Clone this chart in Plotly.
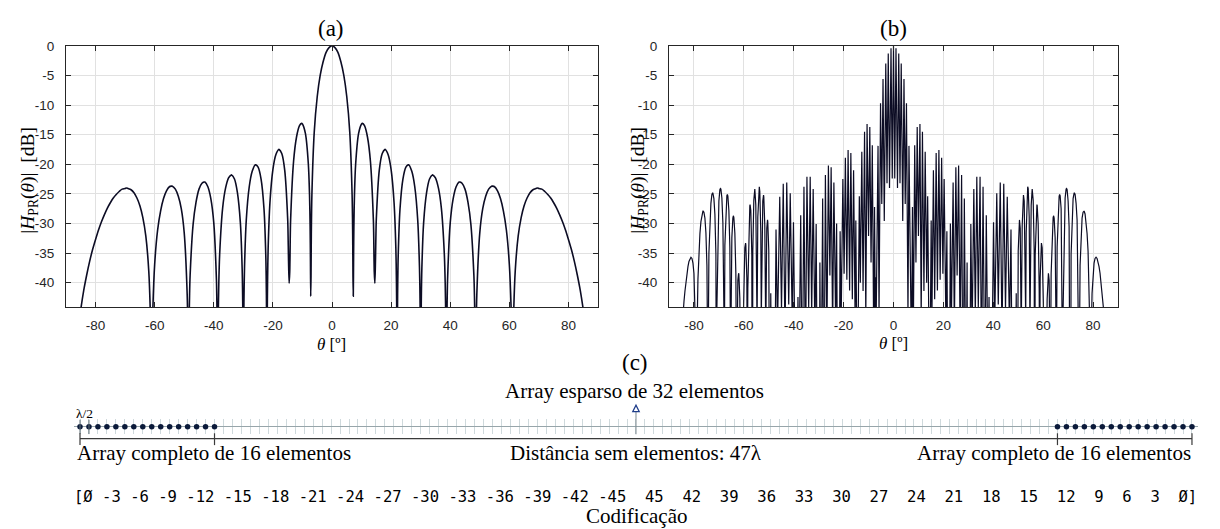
import plotly.graph_objects as go

# ---------------- data ----------------
# (a) full 16-element array, |H_PR(theta)| in dB
theta_a_neg = [-90, -89, -88, -87, -86, -85, -84, -83, -82, -81,
               -80, -79, -78, -77, -76, -75, -74, -73, -72, -71,
               -70, -69.6, -69, -68, -67, -66, -65, -64, -63, -62,
               -61.4, -61.2, -61.1, -61, -60.9, -60.8, -60.6, -60, -59, -58,
               -57, -56, -55, -54.3, -54, -53, -52, -51, -50, -49,
               -48.8, -48.7, -48.6, -48.5, -48.4, -48.2, -48, -47, -46, -45,
               -44, -43.3, -43, -42, -41, -40, -39.1, -39, -38.9, -38.8,
               -38.7, -38.6, -38.5, -38.3, -38, -37, -36, -35, -34.1, -34,
               -33, -32, -31, -30.4, -30.2, -30.1, -30, -29.9, -29.8, -29.6,
               -29, -28, -27, -26, -25.8, -25, -24, -23, -22.4, -22.2,
               -22.1, -22, -21.9, -21.8, -21.6, -21, -20, -19, -18, -17.9,
               -17, -16, -15, -14.9, -14.7, -14.5, -14.3, -14.1, -14, -13,
               -12, -11, -10.3, -10, -9, -8, -7.6, -7.4, -7.3, -7.2,
               -7.1, -7, -6.8, -6, -5, -4, -3, -2, -1]
db_a_neg = [-99.9, -72.4, -60.4, -53.3, -48.3, -44.5, -41.3, -38.7, -36.4, -34.4,
            -32.7, -31.1, -29.7, -28.5, -27.4, -26.5, -25.7, -25.1, -24.6, -24.2,
            -24.1, -24.0, -24.1, -24.3, -24.8, -25.7, -27.0, -29.0, -32.1, -38.0,
            -46.4, -53.6, -62.6, -64.3, -54.1, -49.6, -44.3, -36.9, -31.1, -27.9,
            -25.8, -24.5, -23.8, -23.7, -23.7, -24.2, -25.4, -27.5, -31.6, -42.0,
            -47.8, -53.4, -74.5, -55.0, -48.5, -42.3, -38.7, -30.2, -26.4, -24.2,
            -23.2, -23.0, -23.0, -23.8, -25.8, -29.9, -39.5, -41.8, -45.1, -50.4,
            -66.8, -53.5, -46.5, -40.1, -35.1, -27.4, -24.0, -22.3, -21.8, -21.8,
            -22.5, -24.8, -29.9, -37.6, -43.5, -49.5, -99.9, -49.5, -43.4, -37.4,
            -29.4, -23.8, -21.2, -20.1, -20.1, -20.5, -22.5, -27.6, -35.5, -42.0,
            -49.2, -59.1, -44.9, -39.7, -34.1, -26.5, -20.9, -18.4, -17.5, -17.5,
            -18.2, -21.0, -29.2, -30.9, -36.4, -40.1, -38.1, -31.5, -29.4, -19.5,
            -15.4, -13.5, -13.1, -13.2, -14.8, -20.0, -25.2, -30.6, -35.7, -42.3,
            -38.9, -31.8, -25.1, -14.5, -8.6, -5.0, -2.7, -1.1, -0.3]
theta_a_pos = [0, 1, 2, 3, 4, 5, 6, 6.8, 7, 7.1,
               7.2, 7.3, 7.4, 7.6, 8, 9, 10, 10.3, 11, 12,
               13, 14, 14.1, 14.3, 14.5, 14.7, 14.9, 15, 16, 17,
               17.9, 18, 19, 20, 21, 21.6, 21.8, 21.9, 22, 22.1,
               22.2, 22.4, 23, 24, 25, 25.8, 26, 27, 28, 29,
               29.6, 29.8, 29.9, 30, 30.1, 30.2, 30.4, 31, 32, 33,
               34, 34.1, 35, 36, 37, 38, 38.3, 38.5, 38.6, 38.7,
               38.8, 38.9, 39, 39.1, 40, 41, 42, 43, 43.3, 44,
               45, 46, 47, 48, 48.2, 48.4, 48.5, 48.6, 48.7, 48.8,
               49, 50, 51, 52, 53, 54, 54.3, 55, 56, 57,
               58, 59, 60, 60.6, 60.8, 60.9, 61, 61.1, 61.2, 61.4,
               62, 63, 64, 65, 66, 67, 68, 69, 69.6, 70,
               71, 72, 73, 74, 75, 76, 77, 78, 79, 80,
               81, 82, 83, 84, 85, 86, 87, 88, 89, 90]
db_a_pos = [0.0, -0.3, -1.1, -2.7, -5.0, -8.6, -14.5, -25.1, -31.8, -38.9,
            -42.3, -35.7, -30.6, -25.2, -20.0, -14.8, -13.2, -13.1, -13.5, -15.4,
            -19.5, -29.4, -31.5, -38.1, -40.1, -36.4, -30.9, -29.2, -21.0, -18.2,
            -17.5, -17.5, -18.4, -20.9, -26.5, -34.1, -39.7, -44.9, -59.1, -49.2,
            -42.0, -35.5, -27.6, -22.5, -20.5, -20.1, -20.1, -21.2, -23.8, -29.4,
            -37.4, -43.4, -49.5, -99.9, -49.5, -43.5, -37.6, -29.9, -24.8, -22.5,
            -21.8, -21.8, -22.3, -24.0, -27.4, -35.1, -40.1, -46.5, -53.5, -66.8,
            -50.4, -45.1, -41.8, -39.5, -29.9, -25.8, -23.8, -23.0, -23.0, -23.2,
            -24.2, -26.4, -30.2, -38.7, -42.3, -48.5, -55.0, -74.5, -53.4, -47.8,
            -42.0, -31.6, -27.5, -25.4, -24.2, -23.7, -23.7, -23.8, -24.5, -25.8,
            -27.9, -31.1, -36.9, -44.3, -49.6, -54.1, -64.3, -62.6, -53.6, -46.4,
            -38.0, -32.1, -29.0, -27.0, -25.7, -24.8, -24.3, -24.1, -24.0, -24.1,
            -24.2, -24.6, -25.1, -25.7, -26.5, -27.4, -28.5, -29.7, -31.1, -32.7,
            -34.4, -36.4, -38.7, -41.3, -44.5, -48.3, -53.3, -60.4, -72.4, -99.9]

# (b) sparse 32-element array, |H_PR(theta)| in dB
theta_b_neg = [-90, -89.9, -89.8, -89.7, -89.6, -89.5, -89.4, -89.2, -88.8, -88.4,
               -88, -87.6, -87.2, -86.8, -86.4, -86, -85.6, -85.2, -84.8, -84.4, -84, -83.6, -83.2, -82.8, -82.4,
               -82, -81.6, -81.2, -80.8, -80.4, -80, -79.6, -79.2, -79, -78.8, -78.4, -78, -77.6, -77.2, -76.8,
               -76.4, -76.3, -76, -75.6, -75.2, -74.8, -74.4, -74, -73.6, -73.2, -72.8, -72.5, -72.4, -72, -71.6,
               -71.2, -70.9, -70.8, -70.4, -70, -69.6, -69.4, -69.2, -68.8, -68.4, -68, -67.9, -67.6, -67.2, -66.8,
               -66.6, -66.4, -66, -65.6, -65.3, -65.2, -64.8, -64.4, -64.2, -64, -63.6, -63.2, -62.9, -62.8, -62.4,
               -62.1, -62, -61.6, -61.2, -61, -60.8, -60.6, -60.4, -60, -59.6, -59.3, -59.2, -58.8, -58.6, -58.4,
               -58, -57.6, -57.5, -57.2, -56.8, -56.6, -56.4, -56, -55.6, -55.2, -54.8, -54.7, -54.4, -54, -53.8,
               -53.6, -53.2, -53, -52.8, -52.4, -52.1, -52, -51.6, -51.2, -50.8, -50.5, -50.4, -50, -49.6, -49.2,
               -48.6, -48.3, -48, -47.1, -46.5, -45.6, -44.9, -44.2, -43.5, -42.8, -42, -41.4, -40.6, -40.1, -39.3,
               -39, -38.7, -38.3, -37.9, -37.2, -36.6, -35.9, -35.3, -34.7, -34, -33.4, -32.8, -32.2, -31.5, -31,
               -30.3, -30.2, -30, -29.5, -29.1, -28.4, -27.9, -27.3, -26.7, -26.1, -25.5, -25, -24.4, -23.9, -23.2,
               -22.8, -22.1, -21.4, -21, -20.3, -19.8, -19.3, -18.7, -18.2, -17.6, -17.1, -16.5, -16, -15.4, -15.1,
               -14.5, -13.7, -13.3, -12.7, -12.2, -11.6, -11.1, -10.6, -10, -9.5, -9, -8.5, -7.9, -7.6, -7.2,
               -7, -6.9, -6.2, -5.8, -5.2, -4.7, -4.2, -3.7, -3.1, -2.6, -2.1, -1.6, -1, -0.5]
db_b_neg = [-99.9, -99.9, -99.9, -99.9, -99.9, -99.9, -99.9, -99.9, -97.8, -87.8,
            -80.0, -73.7, -68.4, -63.8, -59.8, -56.2, -53.0, -50.1, -47.6, -45.3, -43.2, -41.4, -39.8, -38.4, -37.3,
            -36.4, -35.9, -35.7, -35.9, -36.7, -38.4, -41.8, -50.7, -78.8, -49.3, -39.4, -34.7, -31.7, -29.7, -28.4,
            -27.9, -27.9, -28.1, -29.1, -31.6, -37.1, -58.4, -35.0, -29.4, -26.6, -25.1, -24.8, -24.9, -25.8, -28.5,
            -35.2, -85.2, -44.3, -30.6, -26.2, -24.3, -24.1, -24.2, -25.7, -29.9, -44.4, -62.0, -33.7, -27.5, -25.3,
            -25.1, -25.4, -27.8, -34.0, -53.9, -48.4, -32.4, -29.1, -28.7, -29.0, -31.6, -38.4, -58.2, -54.5, -39.6,
            -38.4, -38.6, -42.7, -56.4, -70.3, -62.3, -68.9, -50.3, -38.7, -34.1, -33.3, -33.6, -39.2, -54.4, -41.0,
            -30.1, -27.0, -26.8, -27.8, -35.4, -77.3, -34.7, -26.1, -24.2, -26.9, -43.1, -47.6, -28.9, -24.1, -23.8,
            -24.6, -31.5, -46.1, -35.5, -26.2, -25.2, -25.5, -30.3, -48.7, -30.8, -29.4, -29.7, -34.6, -72.7, -41.8,
            -75.1, -49.8, -85.9, -31.0, -47.7, -25.5, -44.6, -23.3, -49.4, -23.1, -43.7, -24.9, -46.8, -29.8, -60.5,
            -46.4, -67.0, -42.4, -57.3, -28.6, -60.7, -23.8, -56.1, -22.1, -44.3, -22.1, -45.6, -24.2, -49.3, -30.1,
            -79.9, -55.0, -99.9, -36.6, -65.9, -25.8, -66.8, -21.8, -49.1, -20.2, -38.8, -20.5, -48.5, -23.1, -46.6,
            -30.0, -86.8, -31.3, -46.7, -22.5, -38.5, -18.9, -39.5, -17.6, -41.3, -18.1, -42.8, -21.0, -46.0, -29.5,
            -63.2, -25.4, -40.0, -17.9, -41.4, -14.5, -46.1, -13.2, -32.1, -13.7, -36.6, -16.8, -51.7, -27.2, -52.7,
            -39.1, -44.4, -16.9, -45.5, -9.7, -26.7, -5.6, -29.6, -3.0, -23.2, -1.3, -24.0, -0.4, -22.4]
theta_b_pos = [0, 0.5, 1, 1.6, 2.1, 2.6, 3.1, 3.7, 4.2, 4.7, 5.2, 5.8, 6.2, 6.9, 7,
               7.2, 7.6, 7.9, 8.5, 9, 9.5, 10, 10.6, 11.1, 11.6, 12.2, 12.7, 13.3, 13.7, 14.5,
               15.1, 15.4, 16, 16.5, 17.1, 17.6, 18.2, 18.7, 19.3, 19.8, 20.3, 21, 21.4, 22.1, 22.8,
               23.2, 23.9, 24.4, 25, 25.5, 26.1, 26.7, 27.3, 27.9, 28.4, 29.1, 29.5, 30, 30.2, 30.3,
               31, 31.5, 32.2, 32.8, 33.4, 34, 34.7, 35.3, 35.9, 36.6, 37.2, 37.9, 38.3, 38.7, 39,
               39.3, 40.1, 40.6, 41.4, 42, 42.8, 43.5, 44.2, 44.9, 45.6, 46.5, 47.1, 48, 48.3, 48.6,
               49.2, 49.6, 50, 50.4, 50.5, 50.8, 51.2, 51.6, 52, 52.1, 52.4, 52.8, 53, 53.2, 53.6,
               53.8, 54, 54.4, 54.7, 54.8, 55.2, 55.6, 56, 56.4, 56.6, 56.8, 57.2, 57.5, 57.6, 58,
               58.4, 58.6, 58.8, 59.2, 59.3, 59.6, 60, 60.4, 60.6, 60.8, 61, 61.2, 61.6, 62, 62.1,
               62.4, 62.8, 62.9, 63.2, 63.6, 64, 64.2, 64.4, 64.8, 65.2, 65.3, 65.6, 66, 66.4, 66.6,
               66.8, 67.2, 67.6, 67.9, 68, 68.4, 68.8, 69.2, 69.4, 69.6, 70, 70.4, 70.8, 70.9, 71.2,
               71.6, 72, 72.4, 72.5, 72.8, 73.2, 73.6, 74, 74.4, 74.8, 75.2, 75.6, 76, 76.3, 76.4,
               76.8, 77.2, 77.6, 78, 78.4, 78.8, 79, 79.2, 79.6, 80, 80.4, 80.8, 81.2, 81.6, 82,
               82.4, 82.8, 83.2, 83.6, 84, 84.4, 84.8, 85.2, 85.6, 86, 86.4, 86.8, 87.2, 87.6, 88,
               88.4, 88.8, 89.2, 89.4, 89.5, 89.6, 89.7, 89.8, 89.9, 90]
db_b_pos = [0.0, -22.4, -0.4, -24.0, -1.3, -23.2, -3.0, -29.6, -5.6, -26.7, -9.7, -45.5, -16.9, -44.4, -39.1,
            -52.7, -27.2, -51.7, -16.8, -36.6, -13.7, -32.1, -13.2, -46.1, -14.5, -41.4, -17.9, -40.0, -25.4, -63.2,
            -29.5, -46.0, -21.0, -42.8, -18.1, -41.3, -17.6, -39.5, -18.9, -38.5, -22.5, -46.7, -31.3, -86.8, -30.0,
            -46.6, -23.1, -48.5, -20.5, -38.8, -20.2, -49.1, -21.8, -66.8, -25.8, -65.9, -36.6, -99.9, -55.0, -79.9,
            -30.1, -49.3, -24.2, -45.6, -22.1, -44.3, -22.1, -56.1, -23.8, -60.7, -28.6, -57.3, -42.4, -67.0, -46.4,
            -60.5, -29.8, -46.8, -24.9, -43.7, -23.1, -49.4, -23.3, -44.6, -25.5, -47.7, -31.0, -85.9, -49.8, -75.1,
            -41.8, -72.7, -34.6, -29.7, -29.4, -30.8, -48.7, -30.3, -25.5, -25.2, -26.2, -35.5, -46.1, -31.5, -24.6,
            -23.8, -24.1, -28.9, -47.6, -43.1, -26.9, -24.2, -26.1, -34.7, -77.3, -35.4, -27.8, -26.8, -27.0, -30.1,
            -41.0, -54.4, -39.2, -33.6, -33.3, -34.1, -38.7, -50.3, -68.9, -62.3, -70.3, -56.4, -42.7, -38.6, -38.4,
            -39.6, -54.5, -58.2, -38.4, -31.6, -29.0, -28.7, -29.1, -32.4, -48.4, -53.9, -34.0, -27.8, -25.4, -25.1,
            -25.3, -27.5, -33.7, -62.0, -44.4, -29.9, -25.7, -24.2, -24.1, -24.3, -26.2, -30.6, -44.3, -85.2, -35.2,
            -28.5, -25.8, -24.9, -24.8, -25.1, -26.6, -29.4, -35.0, -58.4, -37.1, -31.6, -29.1, -28.1, -27.9, -27.9,
            -28.4, -29.7, -31.7, -34.7, -39.4, -49.3, -78.8, -50.7, -41.8, -38.4, -36.7, -35.9, -35.7, -35.9, -36.4,
            -37.3, -38.4, -39.8, -41.4, -43.2, -45.3, -47.6, -50.1, -53.0, -56.2, -59.8, -63.8, -68.4, -73.7, -80.0,
            -87.8, -97.8, -99.9, -99.9, -99.9, -99.9, -99.9, -99.9, -99.9, -99.9]

theta_a = theta_a_neg + theta_a_pos
db_a = db_a_neg + db_a_pos
theta_b = theta_b_neg + theta_b_pos
db_b = db_b_neg + db_b_pos

# tick labels
x_ticks = [-80, -60, -40, -20, 0, 20, 40, 60, 80]
y_ticks = [0, -5, -10, -15, -20, -25, -30, -35, -40]

# (c) element positions (in wavelengths) of the 32-element sparse array
sub_a = [0, 0.5, 1, 1.5, 2, 2.5, 3, 3.5, 4, 4.5, 5, 5.5, 6, 6.5, 7, 7.5]
sub_b = [54.5, 55, 55.5, 56, 56.5, 57, 57.5, 58, 58.5, 59, 59.5, 60, 60.5, 61, 61.5, 62]
codes_neg = ["Ø", "-3", "-6", "-9", "-12", "-15", "-18", "-21", "-24", "-27", "-30",
             "-33", "-36", "-39", "-42", "-45"]
codes_pos = ["45", "42", "39", "36", "33", "30", "27", "24", "21", "18", "15", "12",
             "9", "6", "3", "Ø"]

# ---------------- figure ----------------
W, H = 1220, 529
def px(x):
    return x / W
def py(y):
    return 1 - y / H

LINE = "#0c0c24"
AX = "#262626"
GRID = "#e1e1e1"
TICKFONT = dict(family="Liberation Sans, Arial, sans-serif", size=13.5, color=AX)
SERIF = "Liberation Serif, Times New Roman, serif"

fig = go.Figure()
fig.add_trace(go.Scatter(x=theta_a, y=db_a, mode="lines", xaxis="x", yaxis="y",
                         line=dict(color=LINE, width=1.6, shape="spline", smoothing=0.8),
                         hoverinfo="skip", showlegend=False))
fig.add_trace(go.Scatter(x=theta_b, y=db_b, mode="lines", xaxis="x2", yaxis="y2",
                         line=dict(color=LINE, width=1.2),
                         hoverinfo="skip", showlegend=False))
elements = sub_a + sub_b
fig.add_trace(go.Scatter(x=elements, y=[0] * len(elements), mode="markers", xaxis="x3", yaxis="y3",
                         marker=dict(size=5.5, color="#0b1a3a"), cliponaxis=False,
                         hoverinfo="skip", showlegend=False))
mid = (sub_a[0] + sub_b[-1]) / 2

common_x = dict(range=[-90, 90], tickvals=x_ticks, ticktext=[str(v) for v in x_ticks],
                showgrid=True, gridcolor=GRID, gridwidth=1, zeroline=False,
                showline=True, linecolor=AX, linewidth=1, mirror="ticks",
                ticks="inside", ticklen=5, tickcolor=AX, tickwidth=1,
                tickfont=TICKFONT, ticklabelstandoff=6)
common_y = dict(range=[-44.1, 0], tickvals=y_ticks, ticktext=[str(v) for v in y_ticks],
                showgrid=True, gridcolor=GRID, gridwidth=1, zeroline=False,
                showline=True, linecolor=AX, linewidth=1, mirror="ticks",
                ticks="inside", ticklen=5, tickcolor=AX, tickwidth=1,
                tickfont=TICKFONT, ticklabelstandoff=8,
                domain=[py(304), py(39.3)])

fig.update_layout(
    width=W, height=H, margin=dict(l=0, r=0, t=0, b=0),
    paper_bgcolor="white", plot_bgcolor="white", showlegend=False,
    xaxis=dict(domain=[px(66), px(598)], anchor="y", **common_x),
    yaxis=dict(anchor="x", **common_y),
    xaxis2=dict(domain=[px(669), px(1118)], anchor="y2", **common_x),
    yaxis2=dict(anchor="x2", **common_y),
    xaxis3=dict(domain=[px(74), px(1198)], anchor="y3",
                range=[-0.3345, 62.336], showgrid=True, dtick=0.5, tick0=0,
                gridcolor="#cfd9dc", gridwidth=1, showticklabels=False, ticks="",
                zeroline=False, showline=False),
    yaxis3=dict(domain=[py(433), py(418)], anchor="x3", range=[-1, 1],
                showgrid=False, zeroline=True, zerolinecolor="#97a5aa", zerolinewidth=1,
                showticklabels=False, ticks="", showline=False),
)

shapes = []
# lambda/2 marker ticks
for xv in sub_a[:2]:
    shapes.append(dict(type="line", xref="x3", yref="y3", x0=xv, x1=xv, y0=-1, y1=1,
                       line=dict(color="#5f6f76", width=1)))
# center line from the triangle
shapes.append(dict(type="line", xref="x3", yref="paper", x0=mid, x1=mid,
                   y0=py(433), y1=py(410), line=dict(color="#7d8b90", width=1)))
# small open triangle marking the array centre
tw = 3.2 / 17.94
tri = (f"M {mid - tw},{py(410)} L {mid + tw},{py(410)} L {mid},{py(403.5)} Z")
shapes.append(dict(type="path", xref="x3", yref="paper", path=tri,
                   line=dict(color="#1f3d8a", width=1.3), fillcolor="white"))
# bracket line and its ticks
shapes.append(dict(type="line", xref="x3", yref="paper", x0=sub_a[0], x1=sub_b[-1],
                   y0=py(437.5), y1=py(437.5), line=dict(color="#3a3a3a", width=1.2)))
for xv in (sub_a[0], sub_a[-1], sub_b[0], sub_b[-1]):
    shapes.append(dict(type="line", xref="x3", yref="paper", x0=xv, x1=xv,
                       y0=py(432), y1=py(444), line=dict(color="#3a3a3a", width=1.2)))
fig.update_layout(shapes=shapes)

ann = []
def text(t, x, y, size, family=SERIF, xanchor="center", angle=0, color="black"):
    ann.append(dict(text=t, x=px(x), y=py(y), xref="paper", yref="paper",
                    xanchor=xanchor, yanchor="middle", showarrow=False, textangle=angle,
                    font=dict(family=family, size=size, color=color)))

text("(a)", 331, 21.5, 23)
text("(b)", 893.5, 21.5, 23)
text("<i>θ</i> [º]", 331, 342, 17)
text("<i>θ</i> [º]", 893.5, 341, 17)
ytitle = "|<i>H</i><sub>PR</sub>(<i>θ</i>)|\u00a0\u00a0[dB]"
text(ytitle, 29, 176, 19.5, angle=-90)
text(ytitle, 639, 176, 19.5, angle=-90)
text("(c)", 635, 360, 23)
text("Array esparso de 32 elementos", 634, 389, 21)
text("λ/2", 84, 412, 13.5)
text("Array completo de 16 elementos", 75, 452, 21, xanchor="left")
text("Array completo de 16 elementos", 1193, 452, 21, xanchor="right")
text("Distância sem elementos: 47λ", 636, 452, 21)
code_row = "[" + " ".join(codes_neg) + "  " + "  ".join(codes_pos) + "]"
ann.append(dict(text=code_row.replace(" ", "\u00a0"), x=px(635), y=py(497), xref="paper", yref="paper",
                xanchor="center", yanchor="middle", showarrow=False,
                font=dict(family="DejaVu Sans Mono, monospace", size=15.55, color="black")))
text("Codificação", 636, 516, 21)
fig.update_layout(annotations=ann)

page_fix = ("document.documentElement.style.margin='0';document.body.style.margin='0';"
            "document.body.style.padding='0';document.body.style.overflow='hidden';"
            "var gd=document.getElementById('{plot_id}');gd.style.position='absolute';"
            "gd.style.left='0px';gd.style.top='0px';")
fig.write_html("out.html", post_script=page_fix,
               config={"displayModeBar": False, "staticPlot": True})
